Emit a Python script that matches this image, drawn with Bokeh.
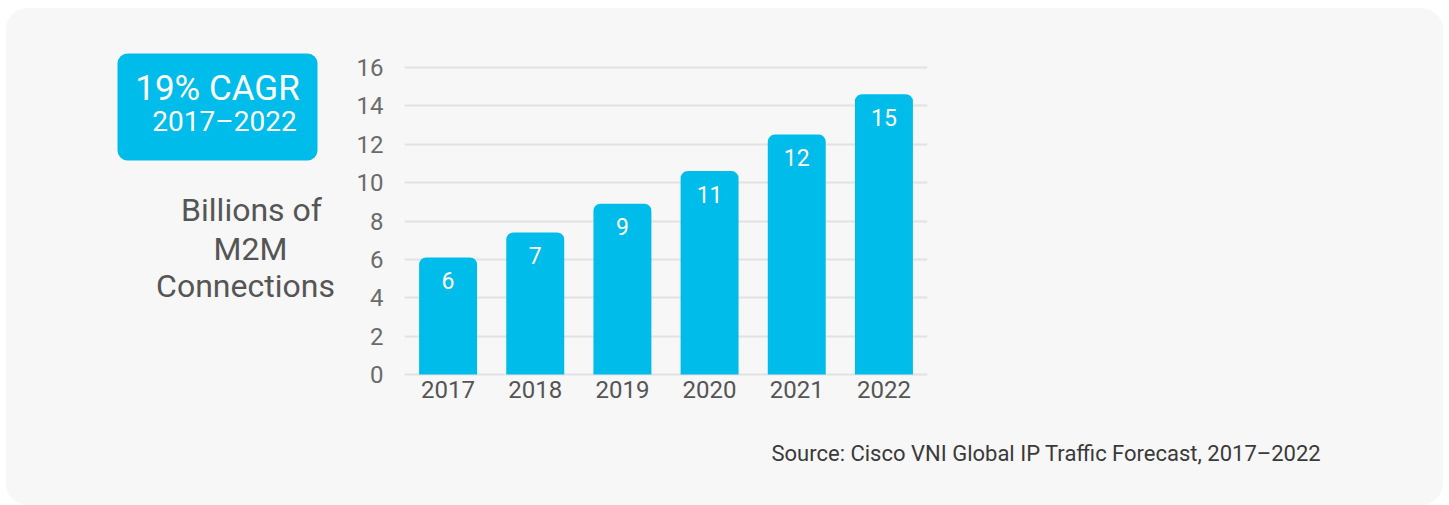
from bokeh.plotting import figure
from bokeh.layouts import row, column
from bokeh.models import ColumnDataSource, FixedTicker, Range1d
from bokeh.core.properties import value
from bokeh.embed import file_html
from bokeh.resources import INLINE

years = ["2017", "2018", "2019", "2020", "2021", "2022"]
connections = [6.1, 7.4, 8.9, 10.6, 12.5, 14.6]
bar_labels = ["6", "7", "9", "11", "12", "15"]
y_ticks = [0, 2, 4, 6, 8, 10, 12, 14, 16]
cagr_title = "19% CAGR"
cagr_period = "2017\u20132022"
y_title = ["Billions of", "M2M", "Connections"]
source_note = "Source: Cisco VNI Global IP Traffic Forecast, 2017\u20132022"

FONT = "Roboto"
BLUE = "#00bceb"
PANEL = "#f7f7f7"
TOTAL_W, TOTAL_H = 1437, 497
LEFT_W, TOP_H = 338, 412
BOTTOM_BORDER = 44           # space for the year labels
FRAME_H = TOP_H - BOTTOM_BORDER
PX_PER_UNIT = 311 / 16.2


def blank_fig(w, h, x0, y0, y1, bottom_border=0):
    f = figure(width=w, height=h, x_range=Range1d(x0, x0 + w),
               y_range=Range1d(y1, y0), output_backend="svg",
               toolbar_location=None, x_axis_type=None, y_axis_type=None,
               min_border=0, min_border_bottom=bottom_border)
    f.background_fill_color = PANEL
    f.border_fill_color = PANEL
    f.outline_line_color = None
    f.grid.visible = False
    return f


def txt(f, x, y, s, size, color, align="center"):
    f.text(x=[x], y=[y], text=[s], text_font=value(FONT),
           text_font_size=size, text_color=color, text_align=align,
           text_baseline="alphabetic")


# ---- left panel: CAGR badge + axis title (pixel coordinates) ----
left = blank_fig(LEFT_W, TOP_H, 0, 0, FRAME_H, bottom_border=BOTTOM_BORDER)
left.quad(left=111, right=311, top=45, bottom=152, fill_color=BLUE,
          line_color=None, border_radius=10)
txt(left, 211, 80, cagr_title, "35px", "white")
txt(left, 218, 113, cagr_period, "28px", "white")
txt(left, 245, 201, y_title[0], "32px", "#555555")
txt(left, 244, 240, y_title[1], "32px", "#555555")
txt(left, 239, 277, y_title[2], "32px", "#555555")

# ---- main bar chart ----
src = ColumnDataSource(dict(year=years, val=connections, lab=bar_labels))
p = figure(x_range=years, y_range=(-0.1, -0.1 + FRAME_H / PX_PER_UNIT),
           width=TOTAL_W - LEFT_W, height=TOP_H, output_backend="svg",
           toolbar_location=None, min_border_left=60, min_border_right=516,
           min_border_top=0, min_border_bottom=BOTTOM_BORDER)
p.background_fill_color = PANEL
p.border_fill_color = PANEL
p.outline_line_color = None

p.vbar(x="year", top="val", bottom=0, width=0.665, source=src,
       fill_color=BLUE, line_color=None, border_radius=(7, 7, 0, 0))
p.text(x="year", y="val", text="lab", source=src, y_offset=23,
       text_align="center", text_baseline="middle", text_color="white",
       text_font=value(FONT), text_font_size="23px")

p.yaxis.ticker = FixedTicker(ticks=y_ticks)
p.yaxis.axis_line_color = None
p.yaxis.major_tick_line_color = None
p.yaxis.minor_tick_line_color = None
p.yaxis.major_tick_out = 0
p.yaxis.major_label_standoff = 21
p.yaxis.major_label_text_font = FONT
p.yaxis.major_label_text_font_size = "24px"
p.yaxis.major_label_text_color = "#6b6b6b"

p.xaxis.axis_line_color = None
p.xaxis.major_tick_line_color = None
p.xaxis.major_tick_out = 0
p.xaxis.major_label_standoff = 4
p.xaxis.major_label_text_font = FONT
p.xaxis.major_label_text_font_size = "24px"
p.xaxis.major_label_text_color = "#555555"

p.xgrid.grid_line_color = None
p.ygrid.grid_line_color = "#e2e2e2"
p.ygrid.grid_line_width = 2

# ---- bottom strip: source note ----
bottom = blank_fig(TOTAL_W, TOTAL_H - TOP_H, 0, TOP_H, TOTAL_H)
txt(bottom, 765, 445, source_note, "22px", "#3a3a3a", align="left")

layout = column(row(left, p, spacing=0), bottom, spacing=0)
layout.styles = {"border-radius": "22px", "overflow": "hidden",
                 "margin-left": "6px", "margin-top": "8px",
                 "background-color": PANEL}

open("out.html", "w").write(file_html(layout, INLINE))
